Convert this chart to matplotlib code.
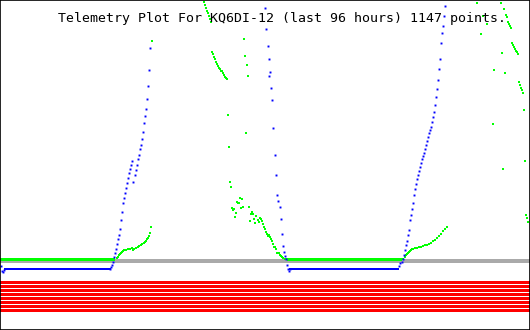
import matplotlib
matplotlib.use("Agg")
from matplotlib import pyplot as plt

# time axis runs over the 96 hour window, value axis drawn top-down
TITLE = "Telemetry Plot For KQ6DI-12 (last 96 hours) 1147 points."

# flat stretches (start, end) and their level
BlueFlatX = [[5, 110], [290, 398]]
BlueFlatY = 269
GreenFlatX = [[0, 113], [288, 400]]
GreenFlatY = 259
GrayLevel = 261
RedLevels = [281.5, 285.5, 289.5, 293.5, 297.5, 301.5, 305.5, 309.5]

BlueX = [1, 2, 3, 4,
         110, 111.3, 112.3, 113.3, 114.3, 115.3, 116.3, 117.3, 118.3, 119.3, 120.3, 121.3, 122.3,
         123.3, 124.3, 125.3, 126.3, 127.3, 128.3, 129.3, 130.3, 131.3, 132.3,
         133.3, 134.7, 136, 137, 138, 139, 140, 141.3, 142.3, 143.3, 144.3, 145.3, 146.3,
         147.3, 148.3, 149.3, 150.3,
         265.3, 266.3, 267.7, 269.3, 270.3, 268.7, 271.3, 272.3, 273.3, 275, 276.3, 277.3,
         278.3, 279.7, 281.3, 282.3, 283.3, 284.3, 285.3, 286.3, 287.3, 288.3, 289.3, 290.3,
         399.3, 400.3, 401.7, 402.7, 403.7, 404.7, 405.7, 406.7, 407.7, 408.7, 409.7, 410.7,
         411.7, 412.7, 413.7, 414.7, 415.7, 416.7, 417.7, 418.7, 419.7, 420.7, 421.7, 422.7,
         423.7, 424.7, 425.7, 426.7, 427.7, 428.7, 430.3, 431.3, 432.3, 433.3, 434.3, 435.3,
         436.3, 437.3, 438.3, 439.3, 440.3, 441.3, 442.3, 443.3, 444.3, 445.3]
BlueY = [266, 271, 272, 270,
         269, 267.3, 265.3, 261.7, 257.3, 253.3, 249.3, 244, 239.3, 235, 229.3, 220, 211.7,
         203.3, 198.3, 193.3, 188.3, 183.3, 178.3, 173.3, 169.3, 164.7, 161.3,
         181.7, 175.3, 170, 164.7, 159.3, 154.7, 149.3, 144.7, 139.3, 132, 123.3, 116, 108.7,
         99.3, 86, 70, 48,
         8.3, 29, 45.7, 59, 71.7, 75.7, 88, 99.7, 128.3, 154.7, 174.7, 194.7,
         200.7, 207.3, 218.7, 234, 246, 252, 256, 259.3, 264.7, 269.3, 270.7, 268.7,
         266, 263.3, 262, 259.3, 254.7, 250, 245.3, 240.7, 235.3, 230, 220, 214.7,
         208.7, 203.3, 194.7, 189.3, 184, 179.3, 174.7, 170.7, 166.7, 162.7, 159.3, 156,
         152.7, 149.3, 145.3, 141.3, 136.7, 132.7, 130, 126.7, 122, 116.7, 112, 105.3,
         96.7, 89.3, 80, 69.3, 58.7, 43.3, 32.7, 26, 16, 6]

GreenX = [114.3, 116.7, 117.7, 118.7, 119.7, 120.7, 121.7, 122.7, 124.3, 126, 128, 130, 132,
          133, 134.3, 136, 137.7, 139.3, 141, 142.3, 143.7, 145, 146.3, 147.3, 148.3, 149.3,
          150.3, 151.3, 152.3,
          204, 205, 206, 207, 208.3, 209, 210, 211,
          212, 213, 214, 215, 216, 217, 218, 219, 220, 221.3, 222.3, 223.3, 224.3, 225.3,
          226.3, 227.3,
          244.3, 245.3, 247.3, 248.3, 228.3, 246.3, 229.3, 230.3, 231.3, 240.3, 242.3, 237.3,
          238.3, 239.3, 232.3, 233.3, 234.3, 236.3, 241.3, 243.3, 235.3, 249.3, 252.3, 251.3,
          253.3, 256.3, 254.3, 250.3, 259.3, 260.3, 261.3, 258.3, 255.3, 262.3, 263.3, 264.3,
          265.3, 266.3, 267.3, 268.3, 269.3, 270.3, 271.3, 272.3, 273.3, 274.3, 275.3, 276.3,
          277.3, 278.3, 279.3, 280.3, 281.3, 282.3, 283.3, 285, 286.5,
          401.7, 403.3, 405.3, 406.3, 407.3, 408.3, 409.3, 410.3, 411.3, 412.3, 413.3, 415.3,
          417.3, 419.3, 421.3, 423.3, 425.3, 427.3, 429.3, 431.3, 433.3, 435.3, 437.3, 439.3,
          441.3, 443.3, 445.3, 446.7,
          477.3, 501.3, 504.3, 506.3, 507.3, 508.3, 509.3, 510.3, 511.3, 480.7, 483, 486.5,
          512.3, 513.3, 514.3, 515.3, 516.3, 517.3, 518.3, 502.3, 494.3, 505.3, 519.3, 520.3,
          521.3, 522.3, 523.3, 524.3, 493.3, 525.3, 503.3, 526.3, 527.3, 528.3]
GreenY = [259, 258.3, 256.7, 255.3, 254, 253.3, 252, 251.3, 250.3, 249.7, 249, 248.7, 248.3,
          250, 249, 248, 247.3, 246.3, 245.3, 244.3, 243.3, 242, 240.7, 239.3, 237.7, 236,
          233.3, 226.7, 40.7,
          2, 5, 8.3, 11, 13.3, 16, 19, 22,
          51.7, 54, 56.7, 59.3, 61.7, 64, 66, 67.7, 69, 70.7, 71.3, 73.3, 75, 76.7,
          78, 79,
          39, 55.7, 65, 76, 115, 132.7, 146.7, 181.7, 186.7, 197.7, 198.7, 201.7,
          202.7, 202.7, 207.7, 210, 209, 212.7, 207.7, 206.7, 216.7, 206.7, 211.7, 214.3,
          214.3, 216, 218.7, 220.7, 221.7, 217.7, 218.7, 220, 222.7, 220.7, 224, 226.7,
          229.3, 231.7, 234, 236, 235, 237.3, 239.3, 241, 244, 246.7, 247.3, 249.3,
          252.7, 253.3, 253.3, 254.7, 256, 257.3, 258.3, 259, 259,
          259, 258.7, 256.7, 255.3, 254, 253.3, 252, 250.7, 250, 249.3, 249, 248.3,
          247.7, 247.3, 246.7, 246, 245.3, 244.7, 243.7, 242.7, 241.3, 240, 238, 236,
          234, 231.3, 228.7, 226.7,
          2.7, 2.7, 9, 15, 17.3, 22, 24, 26, 28, 33.7, 15.5, 23.5,
          43.3, 45.3, 46.7, 48.7, 50.7, 52.3, 54, 53.3, 69.7, 73.3, 82.3, 85.3,
          87.7, 90, 93.3, 110.3, 123.7, 160.7, 168.7, 214.7, 218, 222]

fig = plt.figure(figsize=(5.3, 3.3), dpi=100)
ax = fig.add_axes([0, 0, 1, 1])

ax.axhline(GrayLevel, color='#aaaaaa', lw=1.6, antialiased=False)
for lev in RedLevels:
    ax.axhline(lev, color='#ff0000', lw=2.16, antialiased=False)

for seg in GreenFlatX:
    ax.plot(seg, [GreenFlatY, GreenFlatY], color='#00ff00', lw=0.9, antialiased=False)
for seg in BlueFlatX:
    ax.plot(seg, [BlueFlatY, BlueFlatY], color='#0000ff', lw=1.44, antialiased=False)

ax.plot(GreenX, GreenY, ls='none', marker='s', ms=1.6, mew=0, color='#00ff00', antialiased=False)
ax.plot(BlueX, BlueY, ls='none', marker='s', ms=1.4, mew=0, color='#0000ff', antialiased=False)

ax.set_xlim(0, 530)
ax.set_ylim(330, 0)
ax.set_xticks([])
ax.set_yticks([])
for sp in ax.spines.values():
    sp.set_color('black')
    sp.set_linewidth(1.2)

ax.text(0.532, 0.933, TITLE, transform=ax.transAxes, ha='center', va='baseline',
        family='DejaVu Sans Mono', fontsize=9.5, color='black')

fig.savefig('out.png', dpi=100)
